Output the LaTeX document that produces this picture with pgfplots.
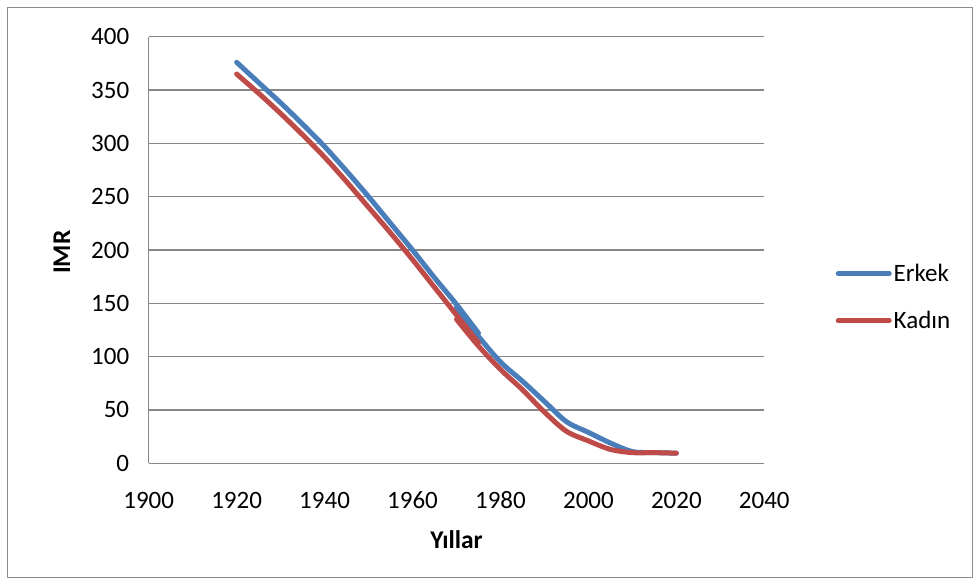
\documentclass[border=0pt]{standalone}
\usepackage{pgfplots}
\pgfplotsset{compat=1.18}
\usepackage{fontspec}
\setmainfont{Carlito}
\definecolor{erkek}{HTML}{4A7EBB}
\definecolor{kadin}{HTML}{BE4B48}
\definecolor{gridc}{HTML}{878787}
\definecolor{borderc}{HTML}{8C8C8C}
\begin{document}
\begin{tikzpicture}[x=1pt,y=1pt]
\useasboundingbox (0,0) rectangle (980,585);
\draw[borderc, line width=1pt] (7.5,7.5) rectangle (972.5,577.5);
\begin{axis}[
  at={(148.7pt,121.7pt)}, anchor=south west,
  scale only axis, width=615.6pt, height=426.6pt,
  xmin=1900, xmax=2040, ymin=0, ymax=400,
  xtick={1900,1920,...,2040}, ytick={0,50,...,400},
  axis lines*=left, axis line style={-, draw=gridc, line width=1.5pt},
  ymajorgrids, grid style={draw=gridc, line width=1.5pt},
  major tick length=0pt,
  tick label style={font=\fontsize{25}{30}\selectfont},
  /pgf/number format/assume math mode=true,
  /pgf/number format/1000 sep={},
  yticklabel style={xshift=-16pt},
  xticklabel style={yshift=-25pt},
  xlabel={Yıllar}, ylabel={IMR},
  label style={font=\bfseries\fontsize{25.5}{30}\selectfont},
  xlabel style={at={(axis description cs:0.5,-0.18)}, anchor=center},
  ylabel style={at={(axis description cs:-0.141,0.495)}, anchor=center},
  every axis plot/.append style={line width=5pt, line cap=round, line join=round, smooth, no markers},
  legend style={at={(axis description cs:1.1157,0.3894)}, anchor=west, draw=none, fill=none,
    inner sep=0pt, font=\fontsize{25}{30}\selectfont, row sep=24pt, legend cell align=left},
  legend image code/.code={\draw[#1, line width=5pt, line cap=round] (0pt,0pt) -- (51pt,0pt);},
]
\addplot[erkek] coordinates {(1920,376)(1925,357)(1930,338)(1935,318)(1940,297)(1945,274)(1950,250)(1955,225)(1960,200)(1965,174)(1970,149)(1975,122)};
\addlegendentry{Erkek}
\addplot[erkek, forget plot] coordinates {(1970,146)(1975,119)(1980,95)(1985,77)(1990,58)(1995,39)(2000,29)(2005,19)(2010,11)(2015,10)(2020,9.5)};
\addplot[kadin] coordinates {(1920,365)(1925,347)(1930,328)(1935,308)(1940,287)(1945,264)(1950,240)(1955,216)(1960,191)(1965,165)(1970,139)(1975,113)};
\addlegendentry{Kadın}
\addplot[kadin, forget plot] coordinates {(1970,135)(1975,110)(1980,88)(1985,69)(1990,48)(1995,30)(2000,21)(2005,13)(2010,10)(2015,10)(2020,9.5)};
\end{axis}
\end{tikzpicture}
\end{document}
